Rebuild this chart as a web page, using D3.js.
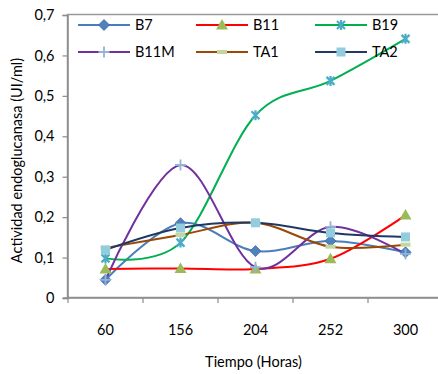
<!DOCTYPE html>
<html>
<head>
<meta charset="utf-8">
<script src="https://cdn.jsdelivr.net/npm/d3@7"></script>
<style>
  body { margin: 0; background: #fff; }
  svg { display: block; font-family: Lato, "Open Sans", sans-serif; }
</style>
</head>
<body>
<div id="chart"></div>
<script>
const hours = ["60", "156", "204", "252", "300"];
const yTicks = [0, 0.1, 0.2, 0.3, 0.4, 0.5, 0.6, 0.7];

const b7   = [0.045, 0.185, 0.116, 0.141, 0.113];
const b11  = [0.072, 0.073, 0.072, 0.097, 0.205];
const b19  = [0.098, 0.137, 0.452, 0.537, 0.641];
const b11m = [0.045, 0.329, 0.076, 0.176, 0.109];
const ta1  = [0.124, 0.156, 0.186, 0.127, 0.132];
const ta2  = [0.119, 0.173, 0.186, 0.161, 0.151];

const series = [
  {name: "B7",   values: b7,   line: "#4a7ebb", mark: "diamond",  fill: "#4f81bd"},
  {name: "B11",  values: b11,  line: "#ff0000", mark: "triangle", fill: "#9bbb59"},
  {name: "B19",  values: b19,  line: "#00b050", mark: "star",     fill: "#4bacc6"},
  {name: "B11M", values: b11m, line: "#7030a0", mark: "plus",     fill: "#95b3d7"},
  {name: "TA1",  values: ta1,  line: "#984807", mark: "dash",     fill: "#c3d69b"},
  {name: "TA2",  values: ta2,  line: "#1f3864", mark: "square",   fill: "#93cddd"}
];

const W = 438, H = 374;
const plot = {left: 68, top: 15, right: 443, bottom: 298};
const fs = 14.5;

const svg = d3.select("#chart").append("svg")
    .attr("width", W)
    .attr("height", H);

const x = d3.scaleBand().domain(hours).range([plot.left, plot.right]);
const y = d3.scaleLinear().domain([0, 0.7]).range([plot.bottom, plot.top]);

const locale = d3.formatLocale({decimal: ",", thousands: ".", grouping: [3], currency: ["", ""]});
const fmt = d => d === 0 ? "0" : locale.format(".1f")(d);

// plot frame (top + left visible, right is outside the picture)
svg.append("rect")
    .attr("x", plot.left - 0.5)
    .attr("y", plot.top - 0.5)
    .attr("width", plot.right - plot.left + 1)
    .attr("height", plot.bottom - plot.top)
    .attr("fill", "none")
    .attr("stroke", "#9a9a9a")
    .attr("stroke-width", 1.5);

// y axis
const yAxis = svg.append("g")
    .attr("transform", `translate(${plot.left - 0.5},0)`)
    .call(d3.axisLeft(y).tickValues(yTicks).tickFormat(fmt).tickSize(5).tickPadding(8));
yAxis.select(".domain").attr("stroke", "#8c8c8c").attr("stroke-width", 1.5);
yAxis.selectAll(".tick line").attr("stroke", "#8c8c8c").attr("stroke-width", 1.2);
yAxis.selectAll("text").attr("font-size", fs).attr("fill", "#000")
    .attr("font-family", "Lato, 'Open Sans', sans-serif");

// x axis: ticks between categories, below the line
const xAxis = svg.append("g")
    .attr("transform", `translate(0,${plot.bottom})`);
xAxis.append("line")
    .attr("x1", plot.left - 5).attr("x2", plot.right)
    .attr("stroke", "#8c8c8c").attr("stroke-width", 1.5);
xAxis.selectAll(".xtick")
    .data(hours.concat(["end"]))
    .join("line")
    .attr("class", "xtick")
    .attr("x1", (d, i) => i < hours.length ? x(d) : x(hours[hours.length - 1]) + x.bandwidth())
    .attr("x2", (d, i) => i < hours.length ? x(d) : x(hours[hours.length - 1]) + x.bandwidth())
    .attr("y1", 0).attr("y2", 5)
    .attr("stroke", "#8c8c8c").attr("stroke-width", 1.2);
xAxis.selectAll(".xlabel")
    .data(hours)
    .join("text")
    .attr("class", "xlabel")
    .attr("x", d => x(d) + x.bandwidth() / 2)
    .attr("y", 37)
    .attr("text-anchor", "middle")
    .attr("font-size", fs)
    .text(d => d);

// axis titles
svg.append("text")
    .attr("x", (plot.left + plot.right) / 2 - 2)
    .attr("y", 367)
    .attr("text-anchor", "middle")
    .attr("font-size", fs)
    .text("Tiempo (Horas)");

svg.append("text")
    .attr("transform", `translate(22,${(plot.top + plot.bottom) / 2 + 4}) rotate(-90)`)
    .attr("text-anchor", "middle")
    .attr("font-size", fs)
    .text("Actividad endoglucanasa (UI/ml)");

// markers
function drawMarker(g, type, color) {
  if (type === "diamond") {
    g.append("path").attr("d", "M0,-5.5L5.5,0L0,5.5L-5.5,0Z").attr("fill", color).attr("stroke", "#3e6ca8").attr("stroke-width", 0.8);
  } else if (type === "triangle") {
    g.append("path").attr("d", "M0,-6L6,4.5L-6,4.5Z").attr("fill", color);
  } else if (type === "star") {
    g.append("path").attr("d", "M-4,-4L4,4M-4,4L4,-4M0,-5L0,5")
      .attr("stroke", color).attr("stroke-width", 2.2).attr("fill", "none");
  } else if (type === "plus") {
    g.append("path").attr("d", "M-5.5,0L5.5,0M0,-5.5L0,5.5")
      .attr("stroke", color).attr("stroke-width", 1.8).attr("fill", "none");
  } else if (type === "dash") {
    g.append("rect").attr("x", -5).attr("y", -2).attr("width", 10).attr("height", 4).attr("fill", color);
  } else if (type === "square") {
    g.append("rect").attr("x", -4.5).attr("y", -4.5).attr("width", 9).attr("height", 9).attr("fill", color);
  }
}

const line = d3.line()
    .x((d, i) => x(hours[i]) + x.bandwidth() / 2)
    .y(d => y(d))
    .curve(d3.curveCatmullRom.alpha(0));

const plotG = svg.append("g");
series.forEach(s => {
  plotG.append("path")
      .attr("d", line(s.values))
      .attr("fill", "none")
      .attr("stroke", s.line)
      .attr("stroke-width", 2);
});
series.forEach(s => {
  s.values.forEach((v, i) => {
    const g = plotG.append("g")
        .attr("transform", `translate(${x(hours[i]) + x.bandwidth() / 2},${y(v)})`);
    drawMarker(g, s.mark, s.fill);
  });
});

// legend
const legCols = [78, 196, 315];
const legRows = [25, 52];
const legend = svg.append("g");
series.forEach((s, i) => {
  const lx = legCols[i % 3], ly = legRows[Math.floor(i / 3)];
  const g = legend.append("g").attr("transform", `translate(${lx},${ly})`);
  g.append("line").attr("x1", 0).attr("x2", 52).attr("stroke", s.line).attr("stroke-width", 2);
  drawMarker(g.append("g").attr("transform", "translate(26,0)"), s.mark, s.fill);
  g.append("text")
      .attr("x", 57)
      .attr("y", 5)
      .attr("font-size", fs)
      .text(s.name);
});
</script>
</body>
</html>
